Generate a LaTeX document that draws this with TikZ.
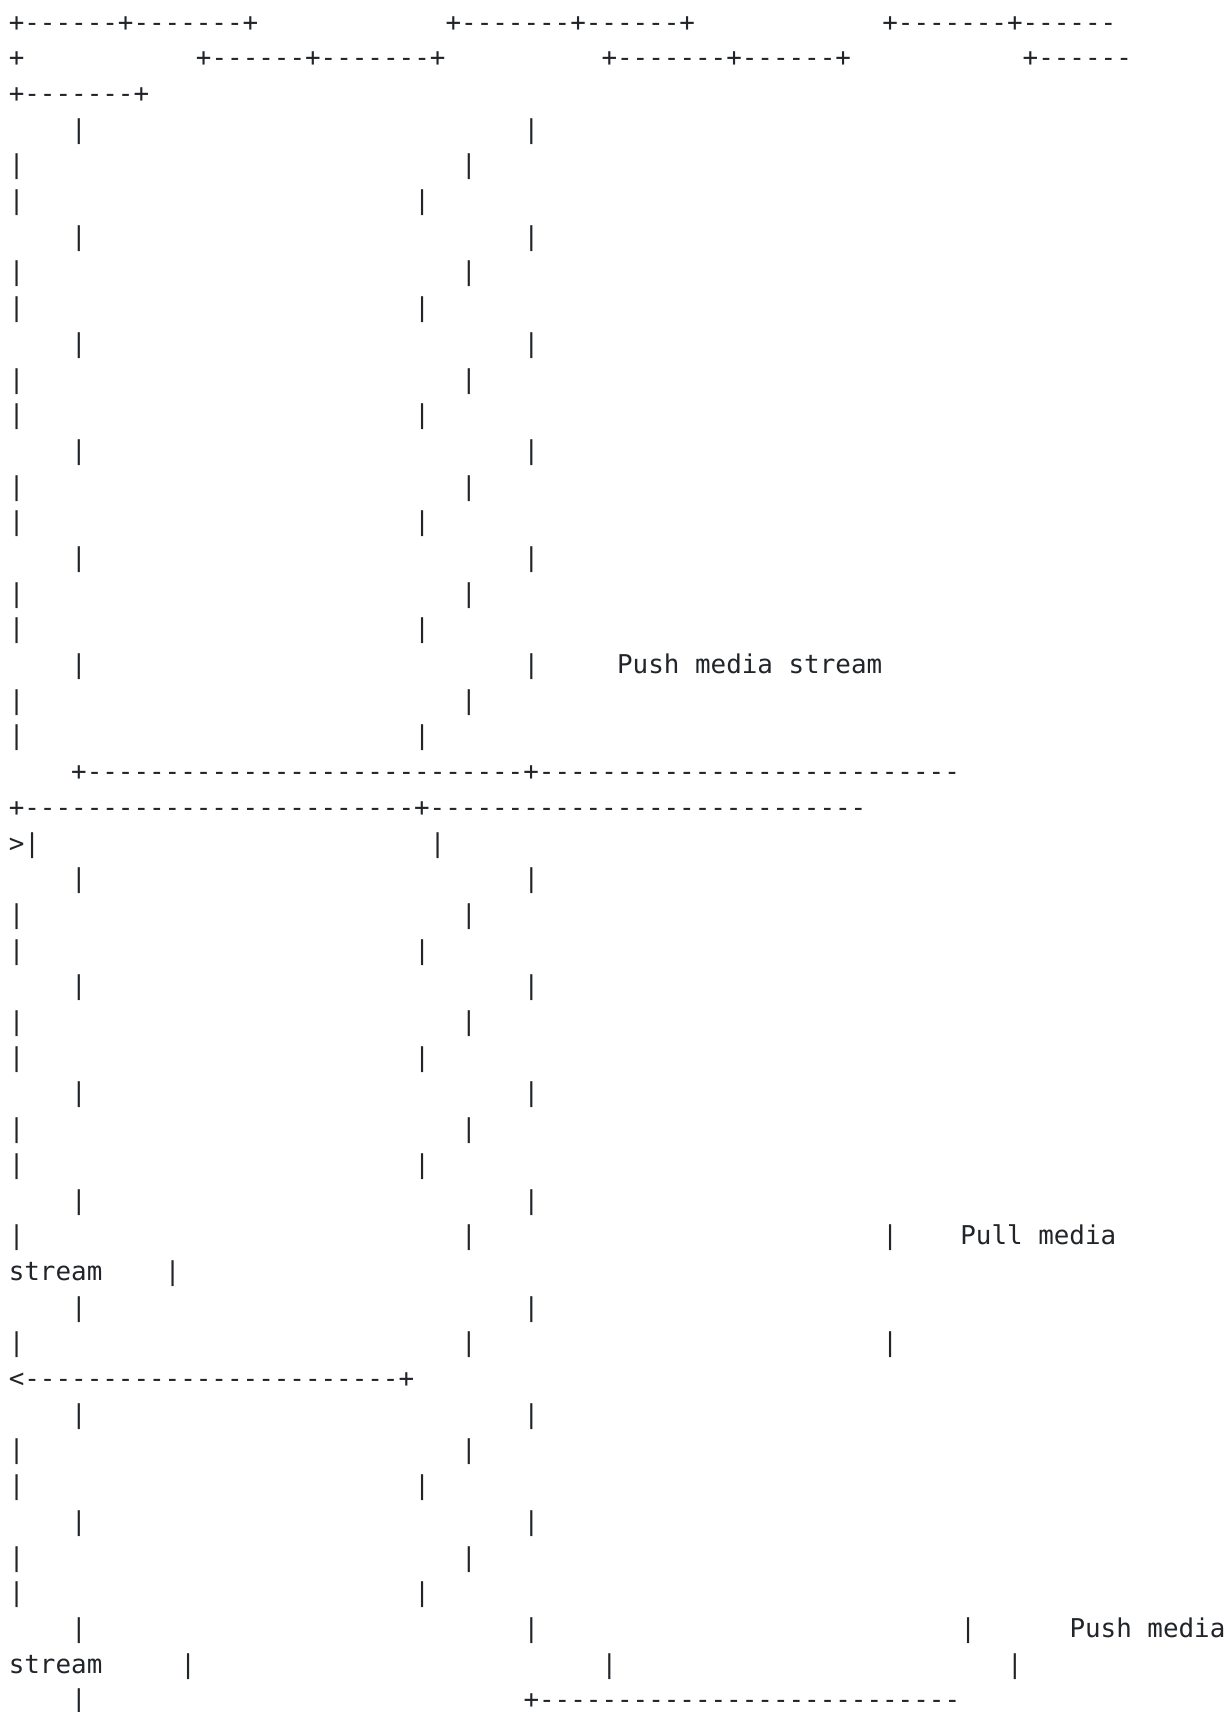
\documentclass[tikz,border=0pt]{standalone}
\usepackage{fontspec}
\setmonofont{DejaVu Sans Mono}
\definecolor{ink}{HTML}{212529}
\newcommand{\dashrun}[1]{\foreach \i in {1,...,#1}{-}}

\begin{document}
\begin{tikzpicture}[x=7.8pt, y=-17.85pt,
    txt/.style={anchor=base west, inner sep=0pt, outer sep=0pt, text=ink,
        font=\ttfamily\fontsize{12.95}{15}\selectfont}]

    \useasboundingbox (0,0) rectangle (78.97,47.96);

    % one unit = one character column / one text row
    \begin{scope}[shift={(0.565,-0.13)}]

    % Boxes along the top (wrapped)
    \node[txt] (r1a) at (0,1) {+------+-------+};
    \node[txt] (r1b) at (28,1) {+-------+------+};
    \node[txt] (r1c) at (56,1) {+-------+------};
    \node[txt] (r2a) at (0,2) {+};
    \node[txt] (r2b) at (12,2) {+------+-------+};
    \node[txt] (r2c) at (38,2) {+-------+------+};
    \node[txt] (r2d) at (65,2) {+------};
    \node[txt] (r3a) at (0,3) {+-------+};

    % Lifelines
    \foreach \r in {4,7,10,13,16,19,25,28,31,34,37,40,43,46} {
        \node[txt] (r\r-a) at (4,\r) {|};
        \node[txt] (r\r-b) at (33,\r) {|};
    }
    \foreach \r in {5,8,11,14,17,20,26,29,32,35,38,41,44} {
        \node[txt] (r\r-a) at (0,\r) {|};
        \node[txt] (r\r-b) at (29,\r) {|};
    }
    \foreach \r in {6,9,12,15,18,21,27,30,33,42,45} {
        \node[txt] (r\r-a) at (0,\r) {|};
        \node[txt] (r\r-b) at (26,\r) {|};
    }

    % Push media stream
    \node[txt] (push1) at (39,19) {Push media stream};
    \node[txt] (r22) at (4,22) {+\dashrun{28}+\dashrun{27}};
    \node[txt] (r23) at (0,23) {+\dashrun{25}+\dashrun{28}};
    \node[txt] (r24a) at (0,24) {>|};
    \node[txt] (r24b) at (27,24) {|};

    % Pull media stream
    \node[txt] (r35c) at (56,35) {|};
    \node[txt] (pull) at (61,35) {Pull media};
    \node[txt] (r36a) at (0,36) {stream};
    \node[txt] (r36b) at (10,36) {|};
    \node[txt] (r38c) at (56,38) {|};
    \node[txt] (r39) at (0,39) {<\dashrun{24}+};

    % Push media stream (second)
    \node[txt] (r46c) at (61,46) {|};
    \node[txt] (push2) at (68,46) {Push media};
    \node[txt] (r47a) at (0,47) {stream};
    \node[txt] (r47b) at (11,47) {|};
    \node[txt] (r47c) at (38,47) {|};
    \node[txt] (r47d) at (64,47) {|};
    \node[txt] (r48a) at (4,48) {|};
    \node[txt] (r48b) at (33,48) {+\dashrun{27}};

    \end{scope}
\end{tikzpicture}
\end{document}
